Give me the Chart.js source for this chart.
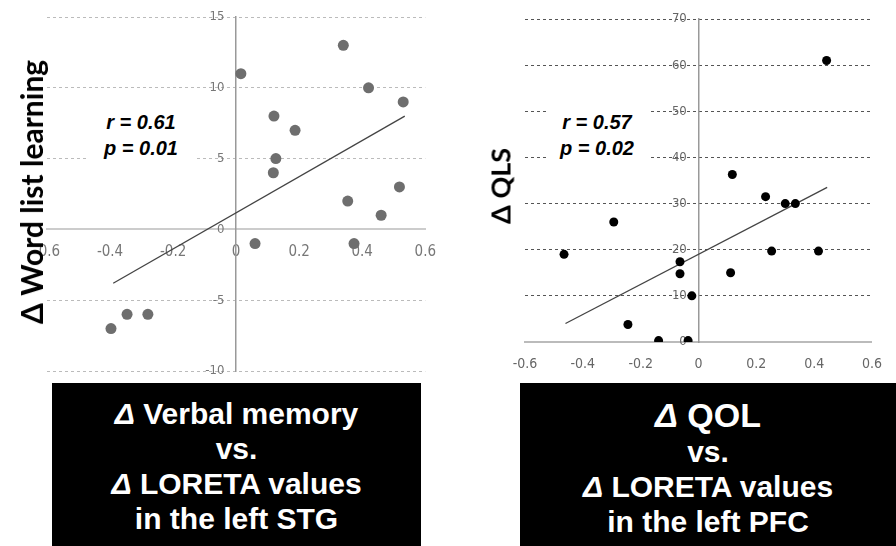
<!DOCTYPE html>
<html>
<head>
<meta charset="utf-8">
<script src="https://cdn.jsdelivr.net/npm/chart.js@4.4.1/dist/chart.umd.min.js"></script>
<style>
  html, body { margin: 0; padding: 0; background: #fff; }
  #page { position: relative; width: 896px; height: 546px; overflow: hidden; font-family: "Liberation Sans", Arial, sans-serif; }
  canvas { position: absolute; top: 0; }
  #stgChart { left: 0; }
  #pfcChart { left: 450px; }
  .ytitle { position: absolute; font-family: Lato, sans-serif; font-weight: bold; color: #000; white-space: nowrap; transform: translate(-50%, -50%) rotate(-90deg); }
  .stat { position: absolute; background: #fff; font-weight: bold; font-style: italic; font-size: 20px; line-height: 26px; text-align: center; box-sizing: border-box; padding-top: 13px; }
  .box { position: absolute; background: #000; color: #fff; font-weight: bold; font-size: 30px; line-height: 35px; text-align: center; box-sizing: border-box; }
  .box .big { font-size: 34px; line-height: 38px; }
</style>
</head>
<body>
<div id="page">
  <canvas id="stgChart" width="450" height="385"></canvas>
  <canvas id="pfcChart" width="446" height="385"></canvas>

  <div class="ytitle" style="left:31px; top:192px; font-size:30px;">Δ Word list learning</div>
  <div class="ytitle" style="left:500px; top:186px; font-size:27px;">Δ QLS</div>

  <div class="stat" style="left:88px; top:96px; width:106px; height:70px;">r = 0.61<br>p = 0.01</div>
  <div class="stat" style="left:546px; top:96px; width:102px; height:70px;">r = 0.57<br>p = 0.02</div>

  <div class="box" style="left:52px; top:383px; width:369px; height:163px; padding-top:13px;">
    <i>Δ</i> Verbal memory<br>vs.<br><i>Δ</i> LORETA values<br>in the left STG
  </div>
  <div class="box" style="left:520px; top:383px; width:376px; height:163px; padding-top:13px;">
    <div class="big"><i>Δ</i> QOL</div>vs.<br><i>Δ</i> LORETA values<br>in the left PFC
  </div>
</div>

<script>
// Δ LORETA (STG) vs Δ word list learning
const stgX = [0.015, 0.34, 0.42, 0.53, 0.12, 0.187, 0.126, 0.118, 0.518, 0.354, 0.46, 0.06, 0.374, -0.397, -0.346, -0.28];
const stgY = [11, 13, 10, 9, 8, 7, 5, 4, 3, 2, 1, -1, -1, -7, -6, -6];
const stgFitX = [-0.39, 0.535];
const stgFitY = [-3.8, 8.0];

// Δ LORETA (PFC) vs Δ QLS
const pfcX = [0.443, 0.117, 0.232, 0.30, 0.335, -0.293, -0.465, 0.253, 0.415, -0.064, -0.064, 0.111, -0.023, -0.244, -0.138, -0.036];
const pfcY = [61, 36.3, 31.5, 30, 30, 26, 19, 19.7, 19.7, 17.4, 14.8, 15, 10, 3.8, 0.3, 0.3];
const pfcFitX = [-0.46, 0.445];
const pfcFitY = [4.0, 33.5];

const xTicks = [-0.6, -0.4, -0.2, 0, 0.2, 0.4, 0.6];
const stgYTicks = [-10, -5, 0, 5, 10, 15];
const pfcYTicks = [0, 10, 20, 30, 40, 50, 60, 70];

const tickFont = "'Liberation Sans Narrow', 'DejaVu Sans Condensed', 'Liberation Sans', sans-serif";

function makeChart(id, xs, ys, fitX, fitY, yTicks, look) {
  const ctx = document.getElementById(id).getContext("2d");
  return new Chart(ctx, {
    type: "scatter",
    data: {
      datasets: [
        {
          data: xs.map((x, i) => ({ x: x, y: ys[i] })),
          backgroundColor: look.dot,
          borderWidth: 0,
          pointRadius: look.radius,
          pointHoverRadius: look.radius,
        },
        {
          data: fitX.map((x, i) => ({ x: x, y: fitY[i] })),
          showLine: true,
          borderColor: "#444",
          borderWidth: 1.3,
          pointRadius: 0,
        },
      ],
    },
    options: {
      responsive: false,
      animation: false,
      layout: { padding: look.padding },
      scales: {
        x: {
          type: "linear",
          min: -0.6,
          max: 0.6,
          position: { y: 0 },
          afterBuildTicks: (s) => { s.ticks = xTicks.map((v) => ({ value: v })); },
          afterFit: (s) => { s.height = 0; },
          grid: { color: "transparent", drawTicks: false },
          border: { color: look.xAxis, width: 2 },
          ticks: {
            autoSkip: false,
            maxRotation: 0,
            padding: 14,
            color: look.tick,
            font: { family: tickFont, size: look.xFont },
            callback: (v) => (v === 0 ? "0" : v.toFixed(1)),
          },
        },
        y: {
          type: "linear",
          min: yTicks[0],
          max: yTicks[yTicks.length - 1],
          position: { x: 0 },
          afterBuildTicks: (s) => { s.ticks = yTicks.map((v) => ({ value: v })); },
          afterFit: (s) => { s.width = 0; },
          grid: { color: look.grid, lineWidth: 1, drawTicks: false },
          border: { color: "#999", width: 1.5, dash: [3, 3] },
          ticks: {
            autoSkip: false,
            color: look.tick,
            font: { family: tickFont, size: 13 },
            // labels sit a little left of the axis line
            callback: (v) => v + "\u2002\u2002",
          },
        },
      },
      plugins: { legend: { display: false }, tooltip: { enabled: false } },
    },
  });
}

makeChart("stgChart", stgX, stgY, stgFitX, stgFitY, stgYTicks, {
  dot: "#6e6e6e", radius: 5.5, grid: "#bbb", xAxis: "#ccc", tick: "#777", xFont: 15,
  padding: { left: 47, right: 7, top: 17, bottom: 14 },
});
makeChart("pfcChart", pfcX, pfcY, pfcFitX, pfcFitY, pfcYTicks, {
  dot: "#000", radius: 4.5, grid: "#555", xAxis: "#bbb", tick: "#666", xFont: 14,
  padding: { left: 75, right: 6, top: 19, bottom: 43 },
});
</script>
</body>
</html>
